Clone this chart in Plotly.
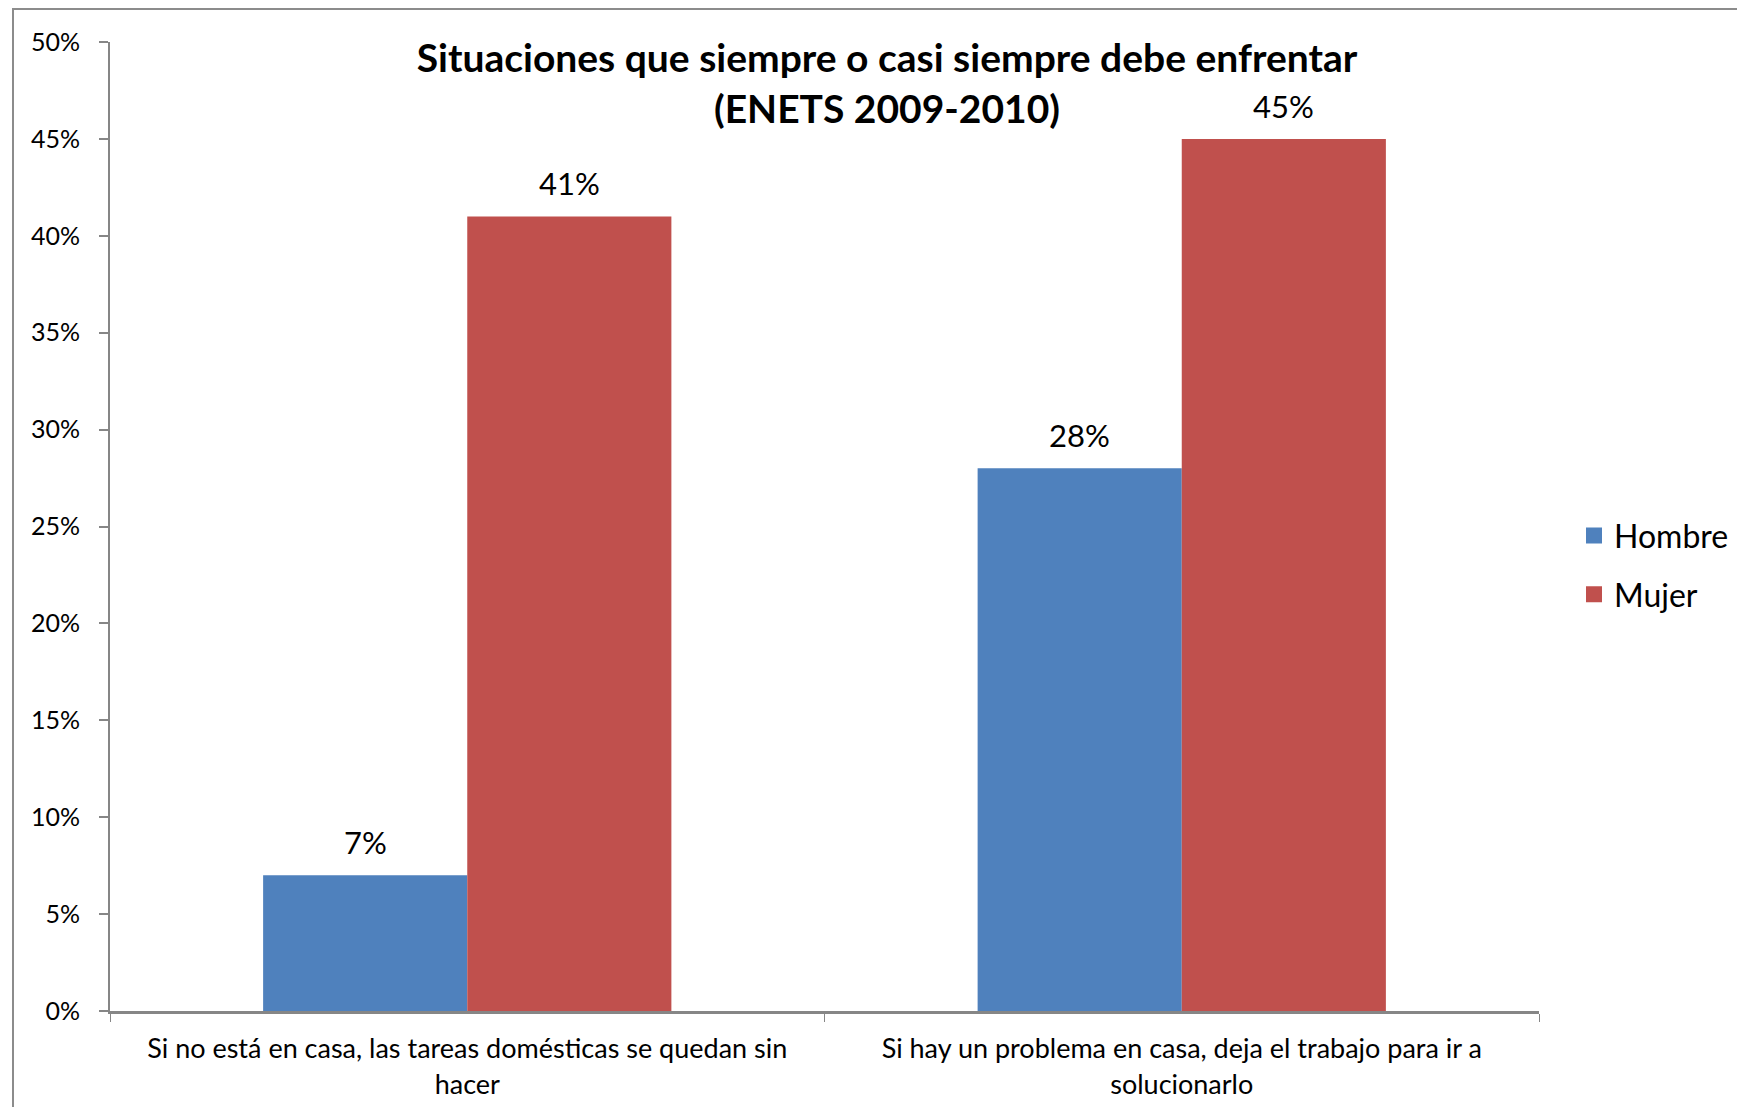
import plotly.graph_objects as go

categories = [
    "Si no está en casa, las tareas domésticas se quedan sin<br>hacer",
    "Si hay un problema en casa, deja el trabajo para ir a<br>solucionarlo",
]
series_names = ["Hombre", "Mujer"]
hombre = [7, 28]
mujer = [41, 45]
colors = ["#4F81BD", "#C0504D"]
y_ticks = [0, 5, 10, 15, 20, 25, 30, 35, 40, 45, 50]

D = 8  # page body margin offset
W, H = 1745 - 2 * D, 1115 - 2 * D
L, T = 110 - D, 42 - D
R = W - (1539 - D)
B = H - (1011 - D)
FONT = "Lato"
bargap = 0.4286

fig = go.Figure()
for name, vals, col in [("Hombre", hombre, colors[0]), ("Mujer", mujer, colors[1])]:
    fig.add_trace(go.Bar(
        x=categories, y=vals, name=name, marker=dict(color=col, line=dict(width=0)),
        showlegend=False,
    ))
# legend entries with larger square swatches
for i, (name, col) in enumerate(zip(series_names, colors)):
    fig.add_trace(go.Scatter(
        x=[None], y=[None], mode="markers", name=name,
        marker=dict(symbol="square", size=20, color=col),
        legendgroup=str(i), showlegend=True,
    ))

bw = (1 - bargap) / 2
for vals, off in [(hombre, -bw / 2), (mujer, bw / 2)]:
    for i, v in enumerate(vals):
        fig.add_annotation(x=i + off, y=v, text=f"{v}%", showarrow=False,
                           yanchor="bottom", yshift=12,
                           font=dict(family=FONT, size=31, color="#000"))

pw = W - L - R
ph = H - T - B
fig.add_shape(type="rect", xref="paper", yref="paper",
              x0=(13 - D - L) / pw, x1=(W + 50 - L) / pw,
              y0=-(B + 50) / ph, y1=(H - B - (9 - D)) / ph,
              line=dict(color="#8C8C8C", width=2), layer="below")

fig.update_layout(
    width=W, height=H,
    margin=dict(l=L, r=R, t=T, b=B, pad=0, autoexpand=False),
    paper_bgcolor="white", plot_bgcolor="white",
    barmode="group", bargap=bargap, bargroupgap=0,
    font=dict(family=FONT, color="#000"),
    title=dict(text="<b>Situaciones que siempre o casi siempre debe enfrentar<br>(ENETS 2009-2010)</b>",
               x=(887 - D) / W, xanchor="center", xref="container",
               y=1 - 64 / H, yanchor="top", yref="container",
               font=dict(family=FONT, size=39, color="#000")),
    legend=dict(x=(1574 - D - L) / pw, xanchor="left", y=0.46, yanchor="middle",
                font=dict(family=FONT, size=32, color="#000"),
                tracegroupgap=14, traceorder="grouped", itemwidth=30,
                bgcolor="rgba(0,0,0,0)"),
    xaxis=dict(
        type="category",
        range=[-0.5, 1.5], tickson="boundaries",
        showline=True, linecolor="#868686", linewidth=3,
        ticks="outside", ticklen=8, tickcolor="#868686", tickwidth=1,
        showgrid=False, zeroline=False, ticklabelstandoff=12,
        tickfont=dict(family=FONT, size=27, color="#000"),
    ),
    yaxis=dict(
        range=[0, 50], tickvals=y_ticks, ticktext=[f"{t}%" for t in y_ticks],
        showline=True, linecolor="#868686", linewidth=2,
        ticks="outside", ticklen=9, tickcolor="#868686", tickwidth=2,
        showgrid=False, zeroline=False, ticklabelstandoff=14,
        tickfont=dict(family=FONT, size=25, color="#000"),
    ),
)

fig.write_html("out.html")
